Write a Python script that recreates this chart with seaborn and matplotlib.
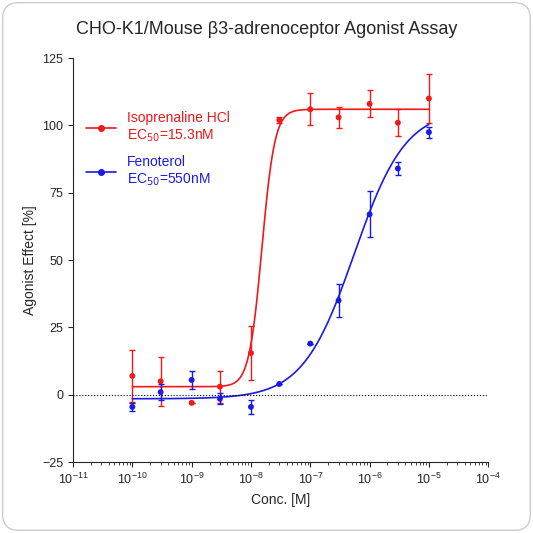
import numpy as np
import matplotlib
matplotlib.use('Agg')
import matplotlib.pyplot as plt
import seaborn as sns
from matplotlib.patches import FancyBboxPatch

# Data
conc = [1e-10, 3e-10, 1e-9, 3e-9, 1e-8, 3e-8, 1e-7, 3e-7, 1e-6, 3e-6, 1e-5]
iso_mean = [7, 5, -3, 3, 15.5, 102, 106, 103, 108, 101, 110]
iso_err = [9.5, 9, 0, 6, 10, 1, 6, 4, 5, 5, 9]
fen_mean = [-4.5, 1, 5.5, -1.5, -4.5, 4, 19, 35, 67, 84, 97.5]
fen_err = [1.5, 3, 3.5, 2, 2.5, 0, 0, 6, 8.5, 2.5, 2]

# 4PL fit parameters (bottom, top, EC50, hill)
iso_fit = (3, 106, 15.3e-9, 4.0)
fen_fit = (-1.5, 106, 550e-9, 1.0)

def logistic(x, bottom, top, ec50, hill):
    return bottom + (top - bottom) / (1 + (ec50 / x) ** hill)

sns.set_style('ticks')
plt.rcParams['font.family'] = ['Liberation Sans', 'DejaVu Sans']

fig = plt.figure(figsize=(5.33, 5.33), dpi=100)
fig.patch.set_alpha(0)
bg = FancyBboxPatch((0.005, 0.005), 0.99, 0.99, boxstyle='round,pad=0,rounding_size=0.03',
                    transform=fig.transFigure, facecolor='white', edgecolor='#cccccc', lw=1, zorder=-10)
fig.patches.append(bg)
ax = fig.add_axes([0.137, 0.133, 0.779, 0.758])
ax.set_facecolor('none')

xs = np.logspace(-10, -5, 400)
for mean, err, fit, color, label in [
        (iso_mean, iso_err, iso_fit, '#f01818', 'Isoprenaline HCl\nEC$_{50}$=15.3nM'),
        (fen_mean, fen_err, fen_fit, '#1a1ae6', 'Fenoterol\nEC$_{50}$=550nM')]:
    ax.errorbar(conc, mean, yerr=err, fmt='none', ecolor=color, elinewidth=1, capsize=2.5)
    sns.lineplot(x=xs, y=logistic(xs, *fit), color=color, lw=1.2, ax=ax)
    sns.scatterplot(x=conc, y=mean, color=color, s=18, edgecolor='none', ax=ax)
    ax.plot([], [], color=color, marker='o', ms=4, lw=1.2, label=label)

ax.axhline(0, color='black', ls=':', lw=0.8)
ax.set_xscale('log')
ax.set_xlim(1e-11, 1e-4)
ax.set_ylim(-25, 125)
ax.set_yticks([-25, 0, 25, 50, 75, 100, 125])
ax.set_xticks([10.0 ** k for k in range(-11, -3)])
ax.tick_params(labelsize=9)
ax.set_xlabel('Conc. [M]', fontsize=10)
ax.set_ylabel('Agonist Effect [%]', fontsize=10)
sns.despine(ax=ax)
fig.suptitle('CHO-K1/Mouse β3-adrenoceptor Agonist Assay', y=0.96, fontsize=13)

leg = ax.legend(loc='upper left', bbox_to_anchor=(0.0, 0.9), frameon=False, fontsize=10,
                handlelength=2.2, labelspacing=0.8)
for text, color in zip(leg.get_texts(), ['#f01818', '#1a1ae6']):
    text.set_color(color)

fig.savefig('out.png', dpi=100)
